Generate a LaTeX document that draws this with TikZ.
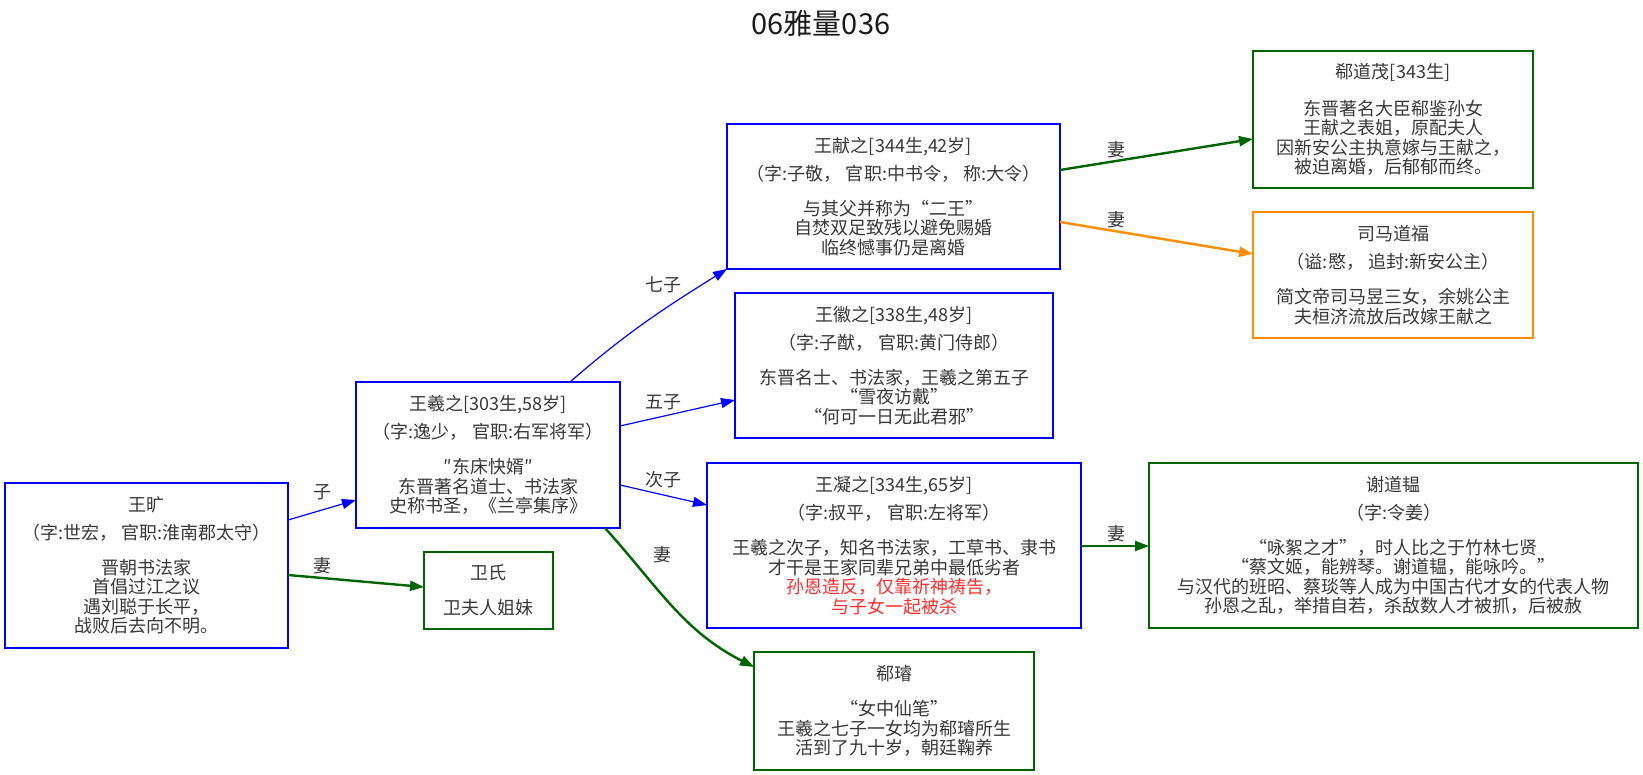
\documentclass[tikz,border=0pt]{standalone}
\usepackage{fontspec}
\setmainfont{Noto Sans CJK SC}
\usetikzlibrary{arrows.meta}
\definecolor{clanblue}{RGB}{0,0,255}
\definecolor{wifegreen}{RGB}{0,100,0}
\definecolor{royalorange}{RGB}{255,140,0}
\definecolor{alertred}{RGB}{255,45,45}

\begin{document}
\begin{tikzpicture}[x=1pt,y=-1pt,
  every node/.style={inner sep=0pt, outer sep=0pt},
  person/.style={draw, line width=1.2pt, align=center,
    font=\fontsize{18}{19.5}\selectfont, text=black!78},
  clan/.style={person, draw=clanblue},
  spouse/.style={person, draw=wifegreen},
  royal/.style={person, draw=royalorange},
  lbl/.style={font=\fontsize{18}{19.5}\selectfont, text=black!78},
  tip/.style={-{Triangle[length=14pt,width=10pt]}},
  sonline/.style={tip, draw=clanblue, line width=1.2pt},
  wifeline/.style={tip, draw=wifegreen, line width=2.4pt},
  royalline/.style={tip, draw=royalorange, line width=2.4pt},
]
\fill[white] (0,0) rectangle (1643,775);
\path[use as bounding box] (0,0) rectangle (1643,775);

% title
\node[font=\fontsize{29}{33}\selectfont, text=black!90] (title) at (821,24) {06雅量036};

% Wang clan
\node[clan, minimum width=283pt, minimum height=165pt] (kuang) at (146.5,565.5)
  {王旷\\[8.5pt]（字:世宏， 官职:淮南郡太守）\\[15.5pt]晋朝书法家\\首倡过江之议\\遇刘聪于长平，\\战败后去向不明。};
\node[clan, minimum width=264pt, minimum height=146pt] (xizhi) at (488,455)
  {王羲之[303生,58岁]\\[8.5pt]（字:逸少， 官职:右军将军）\\[15.5pt]″东床快婿″\\东晋著名道士、书法家\\史称书圣，《兰亭集序》};
\node[clan, minimum width=333pt, minimum height=145pt] (xianzhi) at (893.5,196.5)
  {王献之[344生,42岁]\\[8.5pt]（字:子敬， 官职:中书令， 称:大令）\\[15.5pt]与其父并称为“二王”\\自焚双足致残以避免赐婚\\临终憾事仍是离婚};
\node[clan, minimum width=318pt, minimum height=145pt] (huizhi) at (894,365.5)
  {王徽之[338生,48岁]\\[8.5pt]（字:子猷， 官职:黄门侍郎）\\[15.5pt]东晋名士、书法家，王羲之第五子\\“雪夜访戴”\\“何可一日无此君邪”};
\node[clan, minimum width=374pt, minimum height=165pt] (ningzhi) at (894,545.5)
  {王凝之[334生,65岁]\\[8.5pt]（字:叔平， 官职:左将军）\\[15.5pt]王羲之次子，知名书法家，工草书、隶书\\才干是王家同辈兄弟中最低劣者\\\textcolor{alertred}{孙恩造反，仅靠祈神祷告，}\\\textcolor{alertred}{与子女一起被杀}};

% spouses
\node[spouse, minimum width=129pt, minimum height=77pt] (weishi) at (488.5,590.5)
  {卫氏\\[15.5pt]卫夫人姐妹};
\node[spouse, minimum width=280pt, minimum height=118pt] (xixuan) at (894,711)
  {郗璿\\[15.5pt]“女中仙笔”\\王羲之七子一女均为郗璿所生\\活到了九十岁，朝廷鞠养};
\node[spouse, minimum width=280pt, minimum height=137pt] (daomao) at (1393,119.5)
  {郗道茂[343生]\\[17.5pt]东晋著名大臣郗鉴孙女\\王献之表姐，原配夫人\\因新安公主执意嫁与王献之，\\被迫离婚，后郁郁而终。};
\node[royal, minimum width=280pt, minimum height=126pt] (daofu) at (1393,275)
  {司马道福\\[8.5pt]（谥:愍， 追封:新安公主）\\[15.5pt]简文帝司马昱三女，余姚公主\\夫桓济流放后改嫁王献之};
\node[spouse, minimum width=489pt, minimum height=165pt] (daoyun) at (1393.5,545.5)
  {谢道韫\\[8.5pt]（字:令姜）\\[15.5pt]“咏絮之才”，时人比之于竹林七贤\\“蔡文姬，能辨琴。谢道韫，能咏吟。”\\与汉代的班昭、蔡琰等人成为中国古代才女的代表人物\\孙恩之乱，举措自若，杀敌数人才被抓，后被赦};

% parent -> child
\draw[sonline] ([yshift=45.5pt]kuang.east) -- ([yshift=-45pt]xizhi.west)
  node[lbl, at={(322,492)}] {子};
\draw[sonline] ([xshift=82pt]xizhi.north) to[out=41,in=212] (xianzhi.south west)
  node[lbl, at={(663,285)}] {七子};
\draw[sonline] ([yshift=29pt]xizhi.east) -- ([yshift=-34.5pt]huizhi.west)
  node[lbl, at={(663,402)}] {五子};
\draw[sonline] ([yshift=-30pt]xizhi.east) -- ([yshift=40.5pt]ningzhi.west)
  node[lbl, at={(663,480)}] {次子};

% husband -> wife
\draw[wifeline] ([yshift=-9.5pt]kuang.east) -- ([yshift=3.5pt]weishi.west)
  node[lbl, at={(322,566)}] {妻};
\draw[wifeline] ([xshift=117pt]xizhi.south) to[out=-48,in=153] ([yshift=44pt]xixuan.west)
  node[lbl, at={(662,555)}] {妻};
\draw[wifeline] ([yshift=26.5pt]xianzhi.east) -- ([yshift=-19.5pt]daomao.west)
  node[lbl, at={(1116,150)}] {妻};
\draw[royalline] ([yshift=-25.5pt]xianzhi.east) -- ([yshift=21pt]daofu.west)
  node[lbl, at={(1116,220)}] {妻};
\draw[wifeline] ([yshift=-0.5pt]ningzhi.east) -- ([yshift=-0.5pt]daoyun.west)
  node[lbl, at={(1116,534)}] {妻};
\end{tikzpicture}
\end{document}
